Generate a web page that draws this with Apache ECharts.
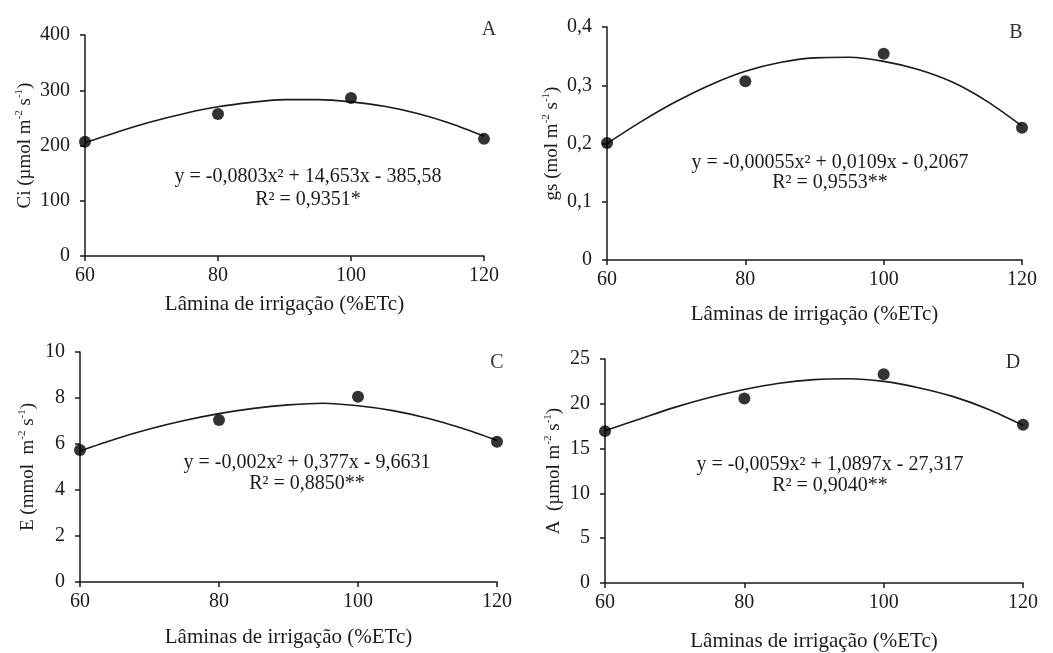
<!DOCTYPE html>
<html>
<head>
<meta charset="utf-8">
<script src="https://cdn.jsdelivr.net/npm/echarts@6/dist/echarts.min.js"></script>
<style>
  html, body { margin: 0; padding: 0; background: #fff; }
  #chart { width: 1053px; height: 653px; }
</style>
</head>
<body>
<div id="chart"></div>
<script>
// irrigation levels (%ETc)
const laminas = [60, 80, 100, 120];
const fitX = [60, 65, 70, 75, 80, 85, 90, 95, 100, 105, 110, 115, 120];

// A - Ci
const ciObs = [207, 257, 286, 212];
const ciFit = [205, 225, 243, 258, 270, 278, 283, 283, 279, 271, 258, 240, 217];
// B - gs
const gsObs = [0.201, 0.307, 0.354, 0.227];
const gsFit = [0.200, 0.238, 0.272, 0.301, 0.324, 0.339, 0.347, 0.348, 0.341, 0.327, 0.305, 0.272, 0.230];
// C - E
const eObs = [5.74, 7.04, 8.05, 6.10];
const eFit = [5.70, 6.21, 6.65, 7.02, 7.32, 7.55, 7.70, 7.77, 7.66, 7.45, 7.12, 6.68, 6.15];
// D - A
const aObs = [16.95, 20.6, 23.3, 17.65];
const aFit = [17.0, 18.3, 19.6, 20.7, 21.6, 22.3, 22.7, 22.8, 22.5, 21.8, 20.8, 19.4, 17.6];

const FONT = "'Liberation Serif', 'Times New Roman', 'DejaVu Serif', serif";
const INK = "#1a1a1a";

let myChart = echarts.init(document.getElementById("chart"));

const grids = [
  { left: 85, top: 35, right: 569, bottom: 397 },
  { left: 607, top: 27, right: 31, bottom: 393 },
  { left: 80, top: 352, right: 556, bottom: 71 },
  { left: 605, top: 359, right: 30, bottom: 67 },
];

const xNames = [
  "Lâmina de irrigação (%ETc)",
  "Lâminas de irrigação (%ETc)",
  "Lâminas de irrigação (%ETc)",
  "Lâminas de irrigação (%ETc)",
];
const xGaps = [38, 44, 45, 48];

// rich text: {s|..} is a superscript
const yNames = [
  "Ci (µmol m{s|-2} s{s|-1})",
  "gs (mol m{s|-2} s{s|-1})",
  "E (mmol  m{s|-2} s{s|-1})",
  "A  (µmol m{s|-2} s{s|-1})",
];
const yGaps = [47, 43, 41, 40];
const yMax = [400, 0.4, 10, 25];
const yStep = [100, 0.1, 2, 5];

function comma(v) {
  if (v === 0) return "0";
  return String(+v.toFixed(1)).replace(".", ",");
}

const xAxis = grids.map((g, i) => ({
  type: "value",
  gridIndex: i,
  min: 60,
  max: 120,
  interval: 20,
  name: xNames[i],
  nameLocation: "middle",
  nameGap: xGaps[i],
  nameTextStyle: { fontFamily: FONT, fontSize: 21, color: INK },
  axisLine: { lineStyle: { color: INK, width: 1.5 } },
  axisTick: { show: true, length: 5, lineStyle: { color: INK, width: 1.5 } },
  axisLabel: { fontFamily: FONT, fontSize: 20, color: INK, margin: 10 },
  splitLine: { show: false },
}));

const yAxis = grids.map((g, i) => ({
  type: "value",
  gridIndex: i,
  min: 0,
  max: yMax[i],
  interval: yStep[i],
  name: yNames[i],
  nameLocation: "middle",
  nameGap: yGaps[i],
  nameTextStyle: {
    fontFamily: FONT,
    fontSize: 19,
    color: INK,
    lineHeight: 22,
    rich: {
      s: {
        fontFamily: FONT,
        fontSize: 11,
        color: INK,
        lineHeight: 22,
        verticalAlign: "top",
      },
    },
  },
  axisLine: { show: true, lineStyle: { color: INK, width: 1.5 } },
  axisTick: { show: true, length: 5, lineStyle: { color: INK, width: 1.5 } },
  axisLabel: {
    fontFamily: FONT,
    fontSize: 20,
    color: INK,
    margin: 15,
    formatter: i === 1 ? comma : null,
  },
  splitLine: { show: false },
}));

const obs = [ciObs, gsObs, eObs, aObs];
const fit = [ciFit, gsFit, eFit, aFit];

let series = [];
for (let i = 0; i < 4; i++) {
  series.push({
    type: "line",
    xAxisIndex: i,
    yAxisIndex: i,
    smooth: 0.3,
    showSymbol: false,
    lineStyle: { color: INK, width: 1.6 },
    data: fitX.map((x, k) => [x, fit[i][k]]),
    z: 2,
  });
  series.push({
    type: "scatter",
    xAxisIndex: i,
    yAxisIndex: i,
    symbolSize: 12,
    itemStyle: { color: "#000" },
    data: laminas.map((x, k) => [x, obs[i][k]]),
    z: 3,
  });
}

// equation texts and panel letters
const notes = [
  { x: 308, y: 177, t: "y = -0,0803x² + 14,653x - 385,58" },
  { x: 308, y: 200, t: "R² = 0,9351*" },
  { x: 830, y: 163, t: "y = -0,00055x² + 0,0109x - 0,2067" },
  { x: 830, y: 183, t: "R² = 0,9553**" },
  { x: 307, y: 463, t: "y = -0,002x² + 0,377x - 9,6631" },
  { x: 307, y: 484, t: "R² = 0,8850**" },
  { x: 830, y: 465, t: "y = -0,0059x² + 1,0897x - 27,317" },
  { x: 830, y: 486, t: "R² = 0,9040**" },
];
const letters = [
  { x: 489, y: 30, t: "A" },
  { x: 1016, y: 33, t: "B" },
  { x: 497, y: 363, t: "C" },
  { x: 1013, y: 363, t: "D" },
];

let graphic = notes
  .map((n) => ({
    type: "text",
    x: n.x,
    y: n.y,
    style: {
      text: n.t,
      fill: INK,
      font: "20px " + FONT,
      align: "center",
      verticalAlign: "middle",
    },
  }))
  .concat(
    letters.map((n) => ({
      type: "text",
      x: n.x,
      y: n.y,
      style: {
        text: n.t,
        fill: "#333",
        font: "20px " + FONT,
        align: "center",
        verticalAlign: "middle",
      },
    }))
  );

let option = {
  backgroundColor: "#fff",
  animation: false,
  grid: grids,
  xAxis: xAxis,
  yAxis: yAxis,
  series: series,
  graphic: graphic,
};

myChart.setOption(option);
window.addEventListener("resize", function () {
  myChart.resize();
});
</script>
</body>
</html>
